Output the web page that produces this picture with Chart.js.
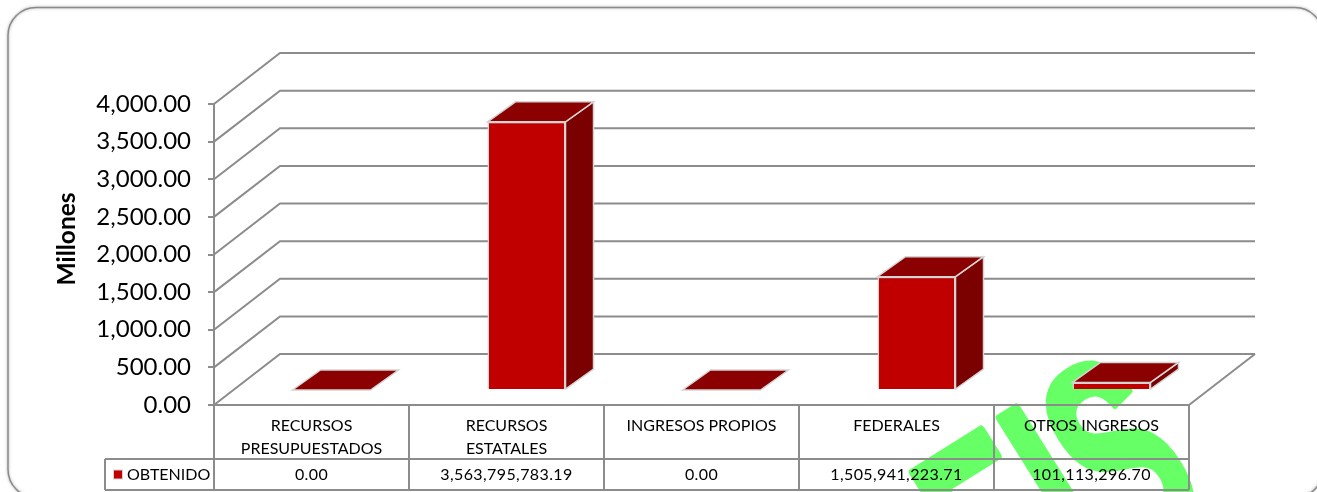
<!DOCTYPE html>
<html>
<head>
<meta charset="utf-8">
<style>
  html, body { margin: 0; padding: 0; background: #fff; overflow: hidden; }
  #wrap { width: 1317px; height: 492px; }
</style>
</head>
<body>
<div id="wrap"><canvas id="chart"></canvas></div>
<script src="https://cdn.jsdelivr.net/npm/chart.js@4"></script>
<script>
var categories = [["RECURSOS", "PRESUPUESTADOS"], ["RECURSOS", "ESTATALES"], "INGRESOS PROPIOS", "FEDERALES", "OTROS INGRESOS"];
var seriesName = "OBTENIDO";
var obtenido = [0, 3563795783.19, 0, 1505941223.71, 101113296.70];
var axisMax = 4000000000;
var axisStep = 500000000;
var axisTitle = "Millones";
var watermark = "SEIS";

var GREY = "#8c8c8c";
var wallX = 66, wallY = -51;   // depth of the back wall
var barX = 28, barY = -20;     // depth of each bar
var shiftX = 20, shiftY = -15; // bars stand in the middle of the floor

function money(v) {
  return v.toLocaleString("en-US", { minimumFractionDigits: 2, maximumFractionDigits: 2 });
}

function line(ctx, x1, y1, x2, y2) {
  ctx.beginPath();
  ctx.moveTo(x1, y1);
  ctx.lineTo(x2, y2);
  ctx.stroke();
}

function face(ctx, pts, fill) {
  ctx.beginPath();
  ctx.moveTo(pts[0][0], pts[0][1]);
  for (var i = 1; i < pts.length; i++) ctx.lineTo(pts[i][0], pts[i][1]);
  ctx.closePath();
  ctx.fillStyle = fill;
  ctx.fill();
  ctx.strokeStyle = "#d4d4d4";
  ctx.lineWidth = 1.5;
  ctx.stroke();
}

var frame3d = {
  id: "frame3d",
  beforeDraw: function(chart) {
    var ctx = chart.ctx;
    // rounded frame
    ctx.save();
    ctx.beginPath();
    ctx.roundRect(8, 7.5, 1315, 490, 28);
    ctx.shadowColor = "rgba(0,0,0,0.35)";
    ctx.shadowBlur = 3;
    ctx.strokeStyle = "#8a8a8a";
    ctx.lineWidth = 1.5;
    ctx.stroke();
    ctx.restore();
    // green mark behind the chart
    ctx.save();
    ctx.translate(1212, 505);
    ctx.rotate(-32 * Math.PI / 180);
    ctx.scale(0.57, 1);
    ctx.font = "bold 270px 'Liberation Sans'";
    ctx.textAlign = "right";
    ctx.fillStyle = "#66ff66";
    ctx.strokeStyle = "#66ff66";
    ctx.lineWidth = 9;
    ctx.lineJoin = "round";
    ctx.fillText(watermark, 0, 0);
    ctx.strokeText(watermark, 0, 0);
    ctx.restore();
  },
  beforeDatasetsDraw: function(chart) {
    var ctx = chart.ctx, y = chart.scales.y, a = chart.chartArea;
    ctx.save();
    ctx.strokeStyle = GREY;
    ctx.lineWidth = 2;
    y.ticks.forEach(function(t) {
      var py = y.getPixelForValue(t.value);
      ctx.beginPath();
      ctx.moveTo(a.left, py);
      ctx.lineTo(a.left + wallX, py + wallY);
      ctx.lineTo(a.right + wallX, py + wallY);
      ctx.stroke();
    });
    line(ctx, a.right, a.bottom, a.right + wallX, a.bottom + wallY);
    ctx.restore();

    // bars: side and top faces, the front comes from the library
    ctx.save();
    ctx.translate(shiftX, shiftY);
    chart.getDatasetMeta(0).data.forEach(function(bar) {
      var p = bar.getProps(["x", "y", "base", "width"], true);
      var l = p.x - p.width / 2, r = p.x + p.width / 2;
      if (p.base - p.y > 0.5) {
        face(ctx, [[r, p.y], [r + barX, p.y + barY], [r + barX, p.base + barY], [r, p.base]], "#7b0000");
      }
      face(ctx, [[l, p.y], [l + barX, p.y + barY], [r + barX, p.y + barY], [r, p.y]], "#8b0000");
    });
  },
  afterDatasetsDraw: function(chart) {
    chart.ctx.restore();
  },
  afterDraw: function(chart) {
    var ctx = chart.ctx, x = chart.scales.x, a = chart.chartArea;
    var rowTop = 459, rowBottom = 490, legendLeft = 105;
    var step = (a.right - a.left) / categories.length;
    ctx.save();
    ctx.strokeStyle = GREY;
    ctx.lineWidth = 2;
    line(ctx, a.left, a.bottom, a.right, a.bottom);
    line(ctx, legendLeft, rowTop, a.right, rowTop);
    line(ctx, legendLeft, rowBottom, a.right, rowBottom);
    line(ctx, legendLeft, rowTop, legendLeft, rowBottom);
    for (var i = 0; i <= categories.length; i++) {
      line(ctx, a.left + i * step, a.bottom, a.left + i * step, rowBottom);
    }
    ctx.fillStyle = "#000";
    ctx.textBaseline = "middle";
    ctx.textAlign = "center";
    ctx.font = "16px Lato";
    ctx.letterSpacing = "0.4px";
    obtenido.forEach(function(v, i) {
      ctx.fillText(money(v), x.getPixelForValue(i), 475);
    });
    ctx.letterSpacing = "0px";
    ctx.textAlign = "left";
    ctx.fillText(seriesName, 127, 475);
    ctx.fillStyle = "#c00000";
    ctx.strokeStyle = "#d4d4d4";
    ctx.lineWidth = 1;
    ctx.fillRect(113.5, 470, 9, 9);
    ctx.strokeRect(113.5, 470, 9, 9);
    // axis title sits above the middle of the axis
    ctx.save();
    ctx.translate(67, 239);
    ctx.rotate(-Math.PI / 2);
    ctx.textAlign = "center";
    ctx.fillStyle = "#000";
    ctx.font = "bold 24.5px Lato";
    ctx.fillText(axisTitle, 0, 0);
    ctx.restore();
    ctx.restore();
  }
};

new Chart(document.getElementById("chart"), {
  type: "bar",
  data: {
    labels: categories,
    datasets: [{
      label: seriesName,
      data: obtenido,
      backgroundColor: "#c00000",
      borderColor: "#d4d4d4",
      borderWidth: 1.5,
      barPercentage: 0.4,
      categoryPercentage: 1
    }]
  },
  plugins: [frame3d],
  options: {
    responsive: true,
    maintainAspectRatio: false,
    animation: false,
    layout: { padding: { top: 104, right: 128, left: 0, bottom: 0 } },
    plugins: { legend: { display: false }, tooltip: { enabled: false } },
    scales: {
      x: {
        afterFit: function(s) { s.height = 87; },
        grid: { display: false },
        border: { display: false },
        ticks: {
          color: "#000",
          font: { family: "Lato", size: 16, lineHeight: 1.45 },
          padding: 1,
          maxRotation: 0,
          autoSkip: false
        }
      },
      y: {
        min: 0,
        max: axisMax,
        afterFit: function(s) { s.width = 214; },
        grid: { drawOnChartArea: false, color: GREY, lineWidth: 2, tickLength: 6 },
        border: { color: GREY, width: 2 },
        ticks: {
          stepSize: axisStep,
          color: "#000",
          padding: 17,
          font: { family: "Lato", size: 24 },
          callback: function(v) { return money(v / 1000000); }
        }
      }
    }
  }
});
</script>
</body>
</html>
